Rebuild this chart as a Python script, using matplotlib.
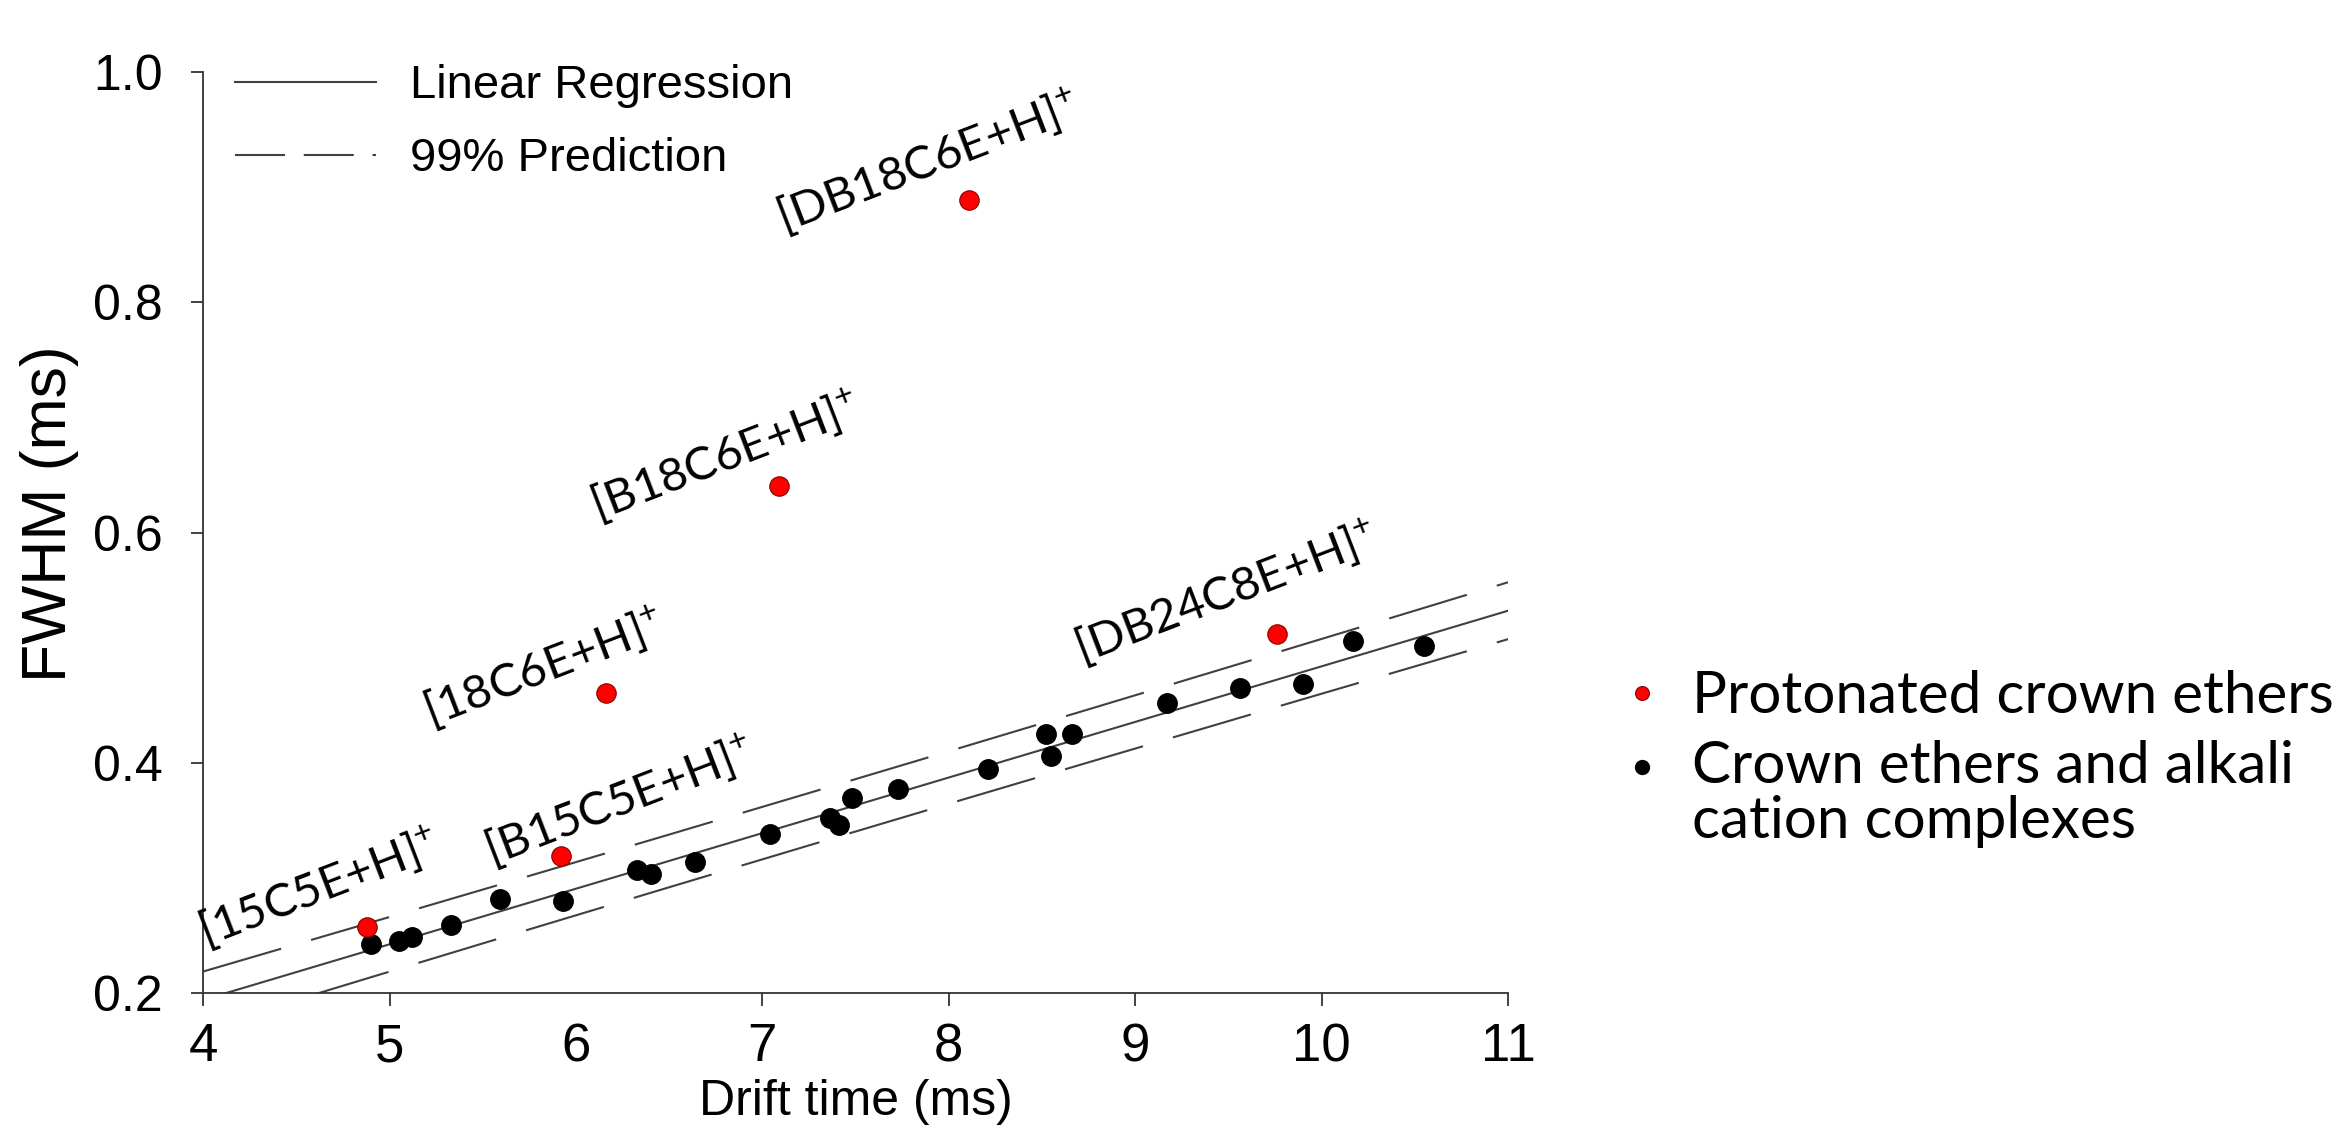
import numpy as np
import matplotlib.pyplot as plt
from matplotlib.lines import Line2D

# protonated crown ethers (red points)
prot_names = ['[15C5E+H]', '[B15C5E+H]', '[18C6E+H]', '[B18C6E+H]', '[DB18C6E+H]', '[DB24C8E+H]']
prot_drift = [4.88, 5.92, 6.16, 7.09, 8.11, 9.76]
prot_fwhm = [0.257, 0.319, 0.461, 0.640, 0.889, 0.512]

# crown ethers and alkali cation complexes (black points)
cplx_drift = [4.90, 5.05, 5.12, 5.33, 5.59, 5.93, 6.33, 6.40, 6.64, 7.04, 7.36, 7.41,
              7.48, 7.73, 8.21, 8.52, 8.55, 8.66, 9.17, 9.56, 9.90, 10.17, 10.55]
cplx_fwhm = [0.243, 0.245, 0.249, 0.259, 0.282, 0.280, 0.307, 0.303, 0.314, 0.338, 0.352, 0.346,
             0.369, 0.377, 0.395, 0.425, 0.406, 0.425, 0.452, 0.465, 0.468, 0.506, 0.501]

xticks = [4, 5, 6, 7, 8, 9, 10, 11]
yticks = [0.2, 0.4, 0.6, 0.8, 1.0]

# label offsets from the red points (points)
label_offsets = [(-35, 29), (42, 40), (-45, 18), (-39, 22), (-30, 28), (-37, 30)]

plt.rcParams['font.family'] = 'Liberation Sans'
plt.rcParams['mathtext.fontset'] = 'custom'
plt.rcParams['mathtext.rm'] = 'Lato'

# linear regression + 99% prediction band on the black points
x = np.array(cplx_drift)
y = np.array(cplx_fwhm)
n = len(x)
slope, icpt = np.polyfit(x, y, 1)
s = np.sqrt(np.sum((y - (icpt + slope * x)) ** 2) / (n - 2))
t99 = 2.831  # t(0.995, df=21)
xx = np.linspace(4, 11, 300)
yy = icpt + slope * xx
half = t99 * s * np.sqrt(1 + 1 / n + (xx - x.mean()) ** 2 / np.sum((x - x.mean()) ** 2))

fig = plt.figure(figsize=(23.48, 11.25), dpi=100)
ax = fig.add_axes([0.0865, 0.1173, 0.5558, 0.8187])

lc = '#404040'
ax.plot(xx, yy, color=lc, lw=1.5)
ax.plot(xx, yy + half, color=lc, lw=1.5, dashes=(39, 15))
ax.plot(xx, yy - half, color=lc, lw=1.5, dashes=(39, 15))

ax.plot(cplx_drift, cplx_fwhm, 'o', color='black', ms=14, mec='black', zorder=3)
ax.plot(prot_drift, prot_fwhm, 'o', color='#ff0000', ms=14, mec='#8b0000', mew=0.8, zorder=4)

for name, px, py, off in zip(prot_names, prot_drift, prot_fwhm, label_offsets):
    ax.annotate(name + r'$^{\mathregular{+}}$', (px, py), xytext=off, textcoords='offset points',
                ha='center', va='center', rotation=21, fontsize=34, family='Lato')

ax.set_xlim(4, 11)
ax.set_ylim(0.2, 1.0)
ax.set_xticks(xticks)
ax.set_yticks(yticks)
ax.set_yticklabels(['%.1f' % v for v in yticks])
ax.tick_params(labelsize=36, length=9, width=1.3, color='#333333')
ax.tick_params(axis='y', pad=20)
ax.tick_params(axis='x', pad=12, labelsize=38)
ax.xaxis.get_major_ticks()[2].tick1line.set_visible(False)
for side in ['top', 'right']:
    ax.spines[side].set_visible(False)
for side in ['left', 'bottom']:
    ax.spines[side].set_color('#333333')
    ax.spines[side].set_linewidth(1.3)

ax.set_xlabel('Drift time (ms)', fontsize=36, labelpad=5)
ax.set_ylabel('FWHM (ms)', fontsize=45, labelpad=10)
ax.yaxis.label.set_y(0.52)

handles = [Line2D([], [], color=lc, lw=1.5),
           Line2D([], [], color=lc, lw=1.5, dashes=(24, 9))]
leg = ax.legend(handles, ['Linear Regression', '99% Prediction'], loc='upper left',
                bbox_to_anchor=(0.1, 0.943), bbox_transform=fig.transFigure, frameon=False,
                fontsize=34, handlelength=3.0, handletextpad=0.7, labelspacing=0.62,
                borderpad=0, borderaxespad=0)

# right-hand key
fig.add_artist(Line2D([0.6993], [1 - 693 / 1125], transform=fig.transFigure, marker='o',
                      color='#ff0000', mec='#8b0000', mew=0.8, ms=10))
fig.add_artist(Line2D([0.6993], [1 - 767 / 1125], transform=fig.transFigure, marker='o',
                      color='black', ms=10))
fig.text(0.7206, 1 - 713 / 1125, 'Protonated crown ethers', fontsize=42, family='Lato',
         va='baseline')
fig.text(0.7206, 1 - 740 / 1125, 'Crown ethers and alkali\ncation complexes', fontsize=42,
         family='Lato', va='top', linespacing=1.05)

fig.savefig('out.png', dpi=100)
